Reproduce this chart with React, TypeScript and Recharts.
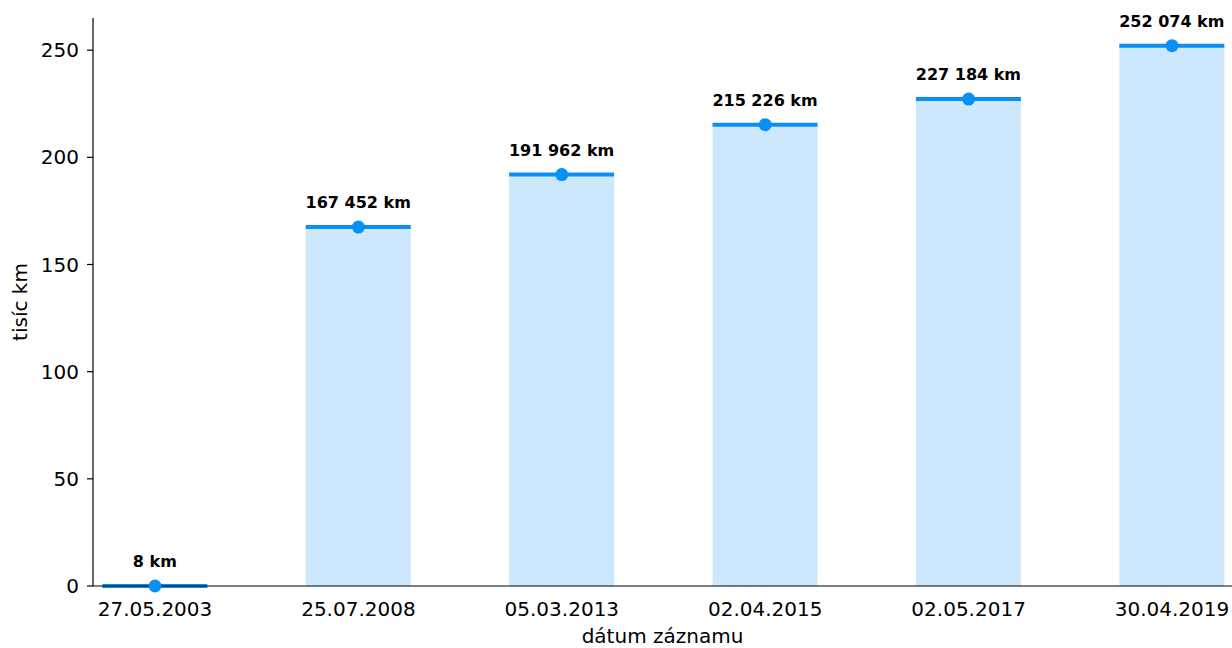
import React from "react"
import {
  ComposedChart,
  Bar,
  Line,
  XAxis,
  YAxis,
  LabelList,
  Label,
} from "recharts"

const DATES = ["27.05.2003", "25.07.2008", "05.03.2013", "02.04.2015", "02.05.2017", "30.04.2019"]
const KM = [8, 167452, 191962, 215226, 227184, 252074]
const Y_TICKS = [0, 50, 100, 150, 200, 250]
const X_TICKS = [0, 1, 2, 3, 4, 5]

const BAR_FILL = "#cde7fc"
const BLUE = "#0a8ff5"
const FONT = "'DejaVu Sans', sans-serif"

const data = DATES.map((d, i) => ({ idx: i, date: d, km: KM[i], value: KM[i] / 1000 }))

function fmtKm(n: number) {
  return String(n).replace(/\B(?=(\d{3})+(?!\d))/g, " ") + " km"
}

function TopBar(props: any) {
  const { x, y, width, height } = props
  return (
    <g>
      <rect x={x} y={y} width={width} height={Math.max(height, 0)} fill={BAR_FILL} />
      <line x1={x} x2={x + width} y1={y} y2={y} stroke={BLUE} strokeWidth={4} />
    </g>
  )
}

function KmLabel(props: any) {
  const { x, y, width, index } = props
  return (
    <text
      x={x + width / 2}
      y={y - 19}
      textAnchor="middle"
      fontFamily={FONT}
      fontSize={16}
      fontWeight="bold"
      fill="#000"
    >
      {fmtKm(KM[index])}
    </text>
  )
}

export default function App() {
  return (
    <div style={{ position: "absolute", left: 0, top: 0, background: "#fff" }}>
      <ComposedChart
        width={1232}
        height={648}
        data={data}
        margin={{ top: 18, right: 0, bottom: 0, left: 0 }}
      >
        <XAxis
          dataKey="idx"
          type="number"
          domain={[-0.305, 5.295]}
          ticks={X_TICKS}
          allowDataOverflow
          tickFormatter={(i: number) => DATES[i] ?? ""}
          height={62}
          tickLine={false}
          tickSize={6}
          tickMargin={10}
          axisLine={{ stroke: "#000", strokeWidth: 1.2 }}
          tick={{ fill: "#000", fontSize: 20, fontFamily: FONT }}
        >
          <Label
            content={() => (
              <text x={662.5} y={643} textAnchor="middle" fontFamily={FONT} fontSize={20} fill="#000">
                dátum záznamu
              </text>
            )}
          />
        </XAxis>
        <YAxis
          type="number"
          domain={[0, 265]}
          ticks={Y_TICKS}
          width={93}
          tickSize={6}
          tickMargin={8}
          axisLine={{ stroke: "#000", strokeWidth: 1.2 }}
          tickLine={{ stroke: "#000", strokeWidth: 1.2 }}
          tick={{ fill: "#000", fontSize: 20, fontFamily: FONT }}
        >
          <Label
            content={() => (
              <text
                x={20}
                y={302}
                transform="rotate(-90, 20, 302)"
                textAnchor="middle"
                dominantBaseline="central"
                fontFamily={FONT}
                fontSize={20}
                fill="#000"
              >
                tisíc km
              </text>
            )}
          />
        </YAxis>
        <Bar dataKey="value" barSize={105} shape={<TopBar />} isAnimationActive={false}>
          <LabelList dataKey="value" content={<KmLabel />} />
        </Bar>
        <Line
          dataKey="value"
          stroke="none"
          dot={{ r: 6.5, fill: BLUE, stroke: "none" }}
          activeDot={false}
          isAnimationActive={false}
        />
      </ComposedChart>
    </div>
  )
}
